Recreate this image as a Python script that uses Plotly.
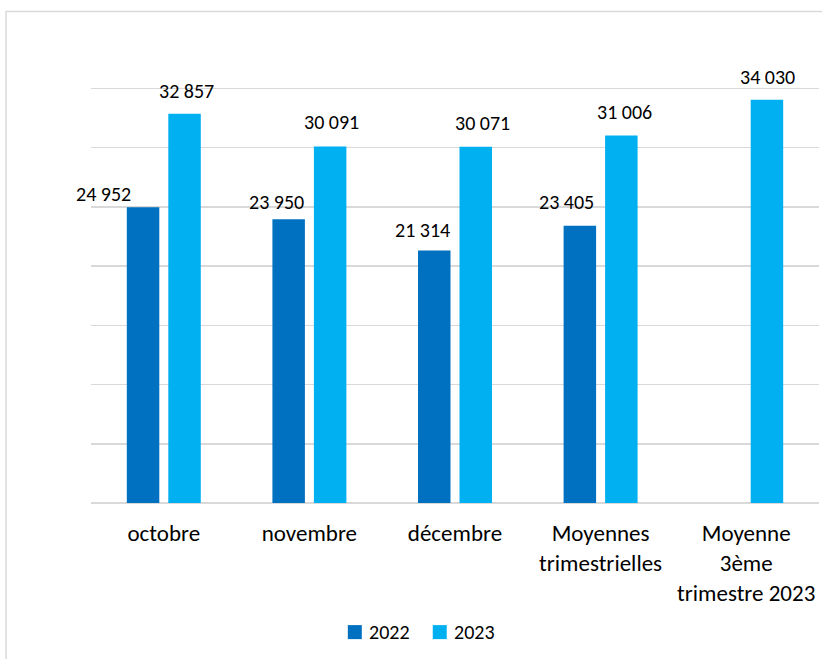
import plotly.graph_objects as go

categories = ["octobre", "novembre", "décembre", "Moyennes<br>trimestrielles", "Moyenne<br>3ème<br>trimestre 2023"]
values_2022 = [24952, 23950, 21314, 23405, None]
values_2023 = [32857, 30091, 30071, 31006, 34030]
series_names = ["2022", "2023"]
colors = ["#0070C0", "#00B0F0"]

# label nudges in pixels (x shift from category center, y shift above bar top)
label_dx_2022 = [-60, -32.5, -32.5, -34, 0]
label_dy_2022 = [13, 17, 20, 24, 24]
label_dx_2023 = [23, 22.5, 27.5, 24, 21.5]
label_dy_2023 = [23, 24, 24, 24, 23]

FONT = "Carlito, Lato, sans-serif"
W, H = 822, 659
ML, MR, MT, MB = 91, 2.5, 29.4, 156

fig = go.Figure()
for name, vals, col in zip(series_names, [values_2022, values_2023], colors):
    fig.add_trace(go.Bar(x=categories, y=vals, name=name, marker_color=col,
                         marker_line_width=0, showlegend=False, hoverinfo="skip"))

def fmt(v):
    return f"{v:,}".replace(",", " ")

annotations = []
for vals, dxs, dys in [(values_2022, label_dx_2022, label_dy_2022),
                       (values_2023, label_dx_2023, label_dy_2023)]:
    for c, v, dx, dy in zip(categories, vals, dxs, dys):
        if v is None:
            continue
        annotations.append(dict(x=c, y=v, text=fmt(v), showarrow=False,
                                xshift=dx, yshift=dy, xanchor="center", yanchor="middle",
                                font=dict(family=FONT, size=20, color="#000000")))

pw = W - ML - MR
ph = H - MT - MB
def px_to_paper_x(px):
    return (px - ML) / pw
def px_to_paper_y(py):
    return (H - MB - py) / ph

shapes = [dict(type="rect", xref="paper", yref="paper",
               x0=px_to_paper_x(6), x1=px_to_paper_x(840),
               y0=px_to_paper_y(680), y1=px_to_paper_y(12),
               line=dict(color="#D9D9D9", width=1.5), fillcolor="rgba(0,0,0,0)",
               layer="below")]

# legend drawn as swatches + labels
legend_x = [348, 433]
legend_y = 632
for name, col, lx in zip(series_names, colors, legend_x):
    shapes.append(dict(type="rect", xref="paper", yref="paper",
                       x0=px_to_paper_x(lx), x1=px_to_paper_x(lx + 14),
                       y0=px_to_paper_y(legend_y + 7), y1=px_to_paper_y(legend_y - 7),
                       line=dict(width=0), fillcolor=col))
    annotations.append(dict(xref="paper", yref="paper", x=px_to_paper_x(lx + 19),
                            y=px_to_paper_y(legend_y), text=name, showarrow=False,
                            xanchor="left", yanchor="middle",
                            font=dict(family=FONT, size=20, color="#000000")))

fig.update_layout(
    width=W, height=H,
    margin=dict(l=ML, r=MR, t=MT, b=MB, pad=0, autoexpand=False),
    paper_bgcolor="white", plot_bgcolor="white",
    barmode="group", bargap=0.43, bargroupgap=0.217,
    font=dict(family=FONT, size=23, color="#000000"),
    showlegend=False,
    yaxis=dict(range=[0, 40000], dtick=5000, showticklabels=False,
               showgrid=True, gridcolor="#D9D9D9", gridwidth=1.5,
               zeroline=True, zerolinecolor="#D9D9D9", zerolinewidth=1.5,
               fixedrange=True, automargin=False),
    xaxis=dict(type="category", range=[-0.5, len(categories) - 0.5],
               showline=False, ticks="", tickfont=dict(family=FONT, size=23, color="#000000"),
               ticklabelstandoff=14, automargin=False, fixedrange=True),
    annotations=annotations,
    shapes=shapes,
)

fig.write_html("out.html", config={"displayModeBar": False, "staticPlot": True},
               post_script="document.body.style.margin='0';document.body.style.overflow='hidden';")
